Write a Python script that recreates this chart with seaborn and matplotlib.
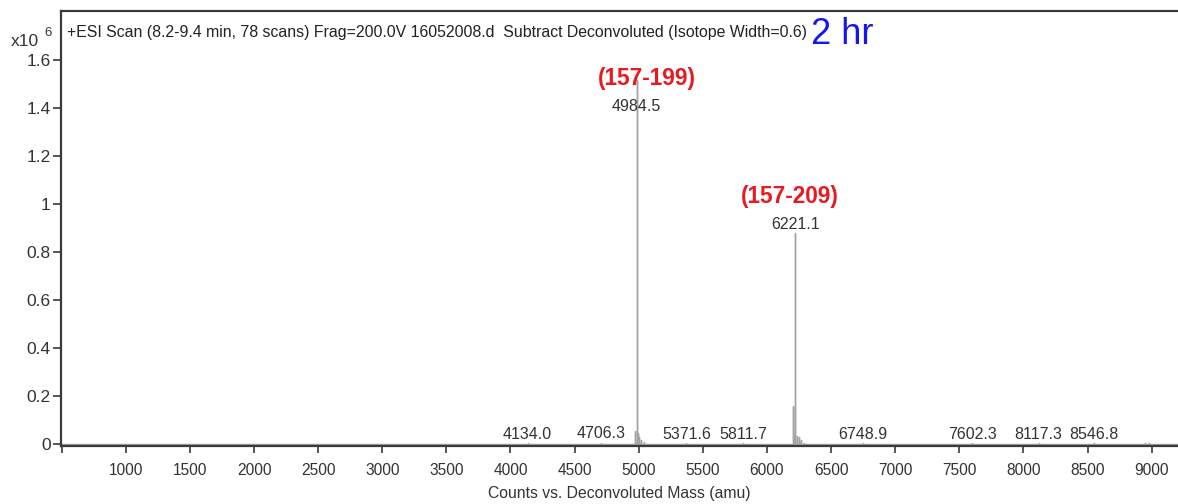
import numpy as np
import pandas as pd
import matplotlib
matplotlib.use("Agg")
import matplotlib.pyplot as plt
import seaborn as sns

# Deconvoluted spectrum: peak centroids (amu) and abundances (x10^6 counts)
peak_mass = [4134.0, 4706.3, 4970.0, 4984.5, 4992.0, 5004.0, 5018.0, 5040.0,
             5371.6, 5811.7, 6203.0, 6213.0, 6221.1, 6233.0, 6246.0, 6262.0,
             6288.0, 6748.9, 7602.3, 8117.3, 8546.8, 8947.0, 8978.0]
peak_counts = [0.004, 0.005, 0.055, 1.516, 0.045, 0.03, 0.018, 0.008,
               0.004, 0.004, 0.16, 0.04, 0.877, 0.035, 0.03, 0.015,
               0.006, 0.004, 0.003, 0.003, 0.003, 0.006, 0.005]

# Labelled peaks and species assignments
labelled_mass = [4134.0, 4706.3, 4984.5, 5371.6, 5811.7, 6221.1,
                 6748.9, 7602.3, 8117.3, 8546.8]
assigned_mass = [4984.5, 6221.1]
assigned_name = ["(157-199)", "(157-209)"]

x_ticks = [500, 1000, 1500, 2000, 2500, 3000, 3500, 4000, 4500,
           5000, 5500, 6000, 6500, 7000, 7500, 8000, 8500, 9000]
y_ticks = [0, 0.2, 0.4, 0.6, 0.8, 1.0, 1.2, 1.4, 1.6]

title_text = ("+ESI Scan (8.2-9.4 min, 78 scans) Frag=200.0V 16052008.d  "
              "Subtract Deconvoluted (Isotope Width=0.6)")
time_text = "2 hr"
x_title = "Counts vs. Deconvoluted Mass (amu)"

sns.set_theme(style="white")
plt.rcParams["font.family"] = ["Liberation Sans", "DejaVu Sans"]

# Stick spectrum as a continuous trace returning to the baseline between peaks
xs, ys = [480.0], [0.0]
for m, c in zip(peak_mass, peak_counts):
    xs += [m, m, m]
    ys += [0.0, c, 0.0]
xs.append(9300.0)
ys.append(0.0)
spec = pd.DataFrame({"mass": xs, "counts": ys})

fig = plt.figure(figsize=(11.78, 5.04), dpi=100)
ax = fig.add_axes([61 / 1178, 58 / 504, 1117 / 1178, 435 / 504])

sns.lineplot(data=spec, x="mass", y="counts", sort=False, estimator=None,
             color="#a3a3a3", linewidth=1.0, ax=ax)

ax.set_xlim(495, 9205)
ax.set_ylim(-0.0085, 1.804)

dark = "#3a3a3a"
for side in ("top", "left", "bottom"):
    ax.spines[side].set_visible(True)
    ax.spines[side].set_color(dark)
    ax.spines[side].set_linewidth(1.6)
ax.spines["right"].set_visible(False)

ax.set_xticks(x_ticks)
ax.set_xticklabels(["" if t == 500 else str(t) for t in x_ticks])
ax.set_yticks(y_ticks)
ax.set_yticklabels([f"{t:g}" for t in y_ticks])
ax.tick_params(axis="x", direction="out", length=5, width=1.2, color=dark,
               pad=7, labelsize=11.2, labelcolor="#333333", bottom=True)
ax.tick_params(axis="y", direction="out", length=6, width=1.2, color=dark,
               pad=1.5, labelsize=12.5, labelcolor="#333333", left=True)
ax.set_xlabel(x_title, fontsize=11.3, color="#333333", labelpad=6)
ax.set_ylabel("")
ax.grid(False)

# Mass labels just above each labelled peak
lookup = dict(zip(peak_mass, peak_counts))
for m in labelled_mass:
    h = min(lookup[m], 1.37)
    ax.annotate(f"{m:.1f}", xy=(m, h), xytext=(0, 1.0),
                textcoords="offset points", ha="center", va="bottom",
                fontsize=11.5, color="#333333")

# Species assignments above the two main peaks
for m, name, dx in zip(assigned_mass, assigned_name, (7, -4)):
    h = min(lookup[m], 1.37)
    ax.annotate(name, xy=(m, h), xytext=(dx, 26.5),
                textcoords="offset points", ha="center", va="center",
                fontsize=16.3, fontweight="bold", color="#e8191f")

fig.text(67 / 1178, 1 - 33 / 504, title_text, ha="left", va="center",
         fontsize=11.4, color="#222222")
fig.text(811 / 1178, 1 - 34 / 504, time_text, ha="left", va="center",
         fontsize=26, color="#1515f0")

# Scale factor for the intensity axis
fig.text(11 / 1178, 1 - 41 / 504, "x10", ha="left", va="center",
         fontsize=12.5, color="#333333")
fig.text(44 / 1178, 1 - 33 / 504, "6", ha="left", va="center",
         fontsize=9.5, color="#333333")

fig.savefig("out.png", dpi=100)
